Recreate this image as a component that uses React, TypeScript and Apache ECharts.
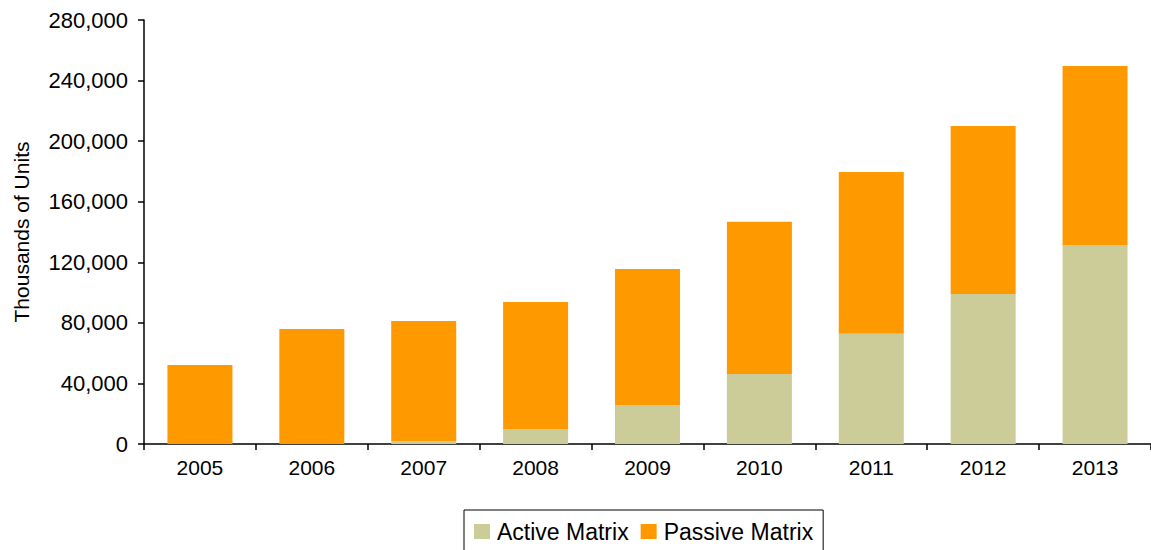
import React, { useEffect, useRef } from "react";
import * as echarts from "echarts";

const years = ["2005", "2006", "2007", "2008", "2009", "2010", "2011", "2012", "2013"];
const activeMatrix = [0, 0, 2000, 9900, 25700, 46200, 72800, 99000, 131400];
const passiveMatrix = [52100, 75900, 79200, 83900, 89800, 100500, 106800, 111000, 118200];
const yTicks = [0, 40000, 80000, 120000, 160000, 200000, 240000, 280000];

const FONT = "'Liberation Sans', Arial, sans-serif";

export default function App() {
  const ref = useRef<HTMLDivElement>(null);
  useEffect(() => {
    if (!ref.current) return;
    const chart = echarts.init(ref.current, null, { renderer: "svg" });
    chart.setOption({
      animation: false,
      backgroundColor: "#ffffff",
      grid: { left: 144, top: 20, width: 1013, height: 424 },
      legend: {
        top: 510,
        left: 464,
        data: ["Active Matrix", "Passive Matrix"],
        icon: "rect",
        itemWidth: 16,
        itemHeight: 15,
        itemGap: 12,
        borderColor: "#000",
        borderWidth: 1,
        padding: [10, 10, 10, 10],
        textStyle: { fontFamily: FONT, fontSize: 23, color: "#000", padding: [0, 0, 0, 2] },
      },
      xAxis: {
        type: "category",
        data: years,
        axisLine: { lineStyle: { color: "#000", width: 1.5 } },
        axisTick: { show: true, alignWithLabel: false, length: 6, lineStyle: { color: "#000", width: 1.5 } },
        axisLabel: { color: "#000", fontFamily: FONT, fontSize: 21, margin: 13 },
      },
      yAxis: {
        type: "value",
        min: yTicks[0],
        max: yTicks[yTicks.length - 1],
        interval: 40000,
        name: "Thousands of Units",
        nameLocation: "middle",
        nameGap: 112,
        nameRotate: 90,
        nameTextStyle: { color: "#000", fontFamily: FONT, fontSize: 21 },
        splitLine: { show: false },
        axisLine: { show: true, lineStyle: { color: "#000", width: 1.5 } },
        axisTick: { show: true, length: 6, inside: false, lineStyle: { color: "#000", width: 1.5 } },
        axisLabel: {
          color: "#000",
          fontFamily: FONT,
          fontSize: 22,
          margin: 16,
          formatter: (v: number) => v.toLocaleString("en-US"),
        },
      },
      series: [
        {
          name: "Active Matrix",
          type: "bar",
          stack: "total",
          data: activeMatrix,
          barWidth: 65,
          itemStyle: { color: "#cccc99" },
        },
        {
          name: "Passive Matrix",
          type: "bar",
          stack: "total",
          data: passiveMatrix,
          barWidth: 65,
          itemStyle: { color: "#ff9900" },
        },
      ],
    });
    return () => chart.dispose();
  }, []);
  return (
    <div
      ref={ref}
      style={{ position: "absolute", left: 0, top: 0, width: 1151, height: 550 }}
    />
  );
}
